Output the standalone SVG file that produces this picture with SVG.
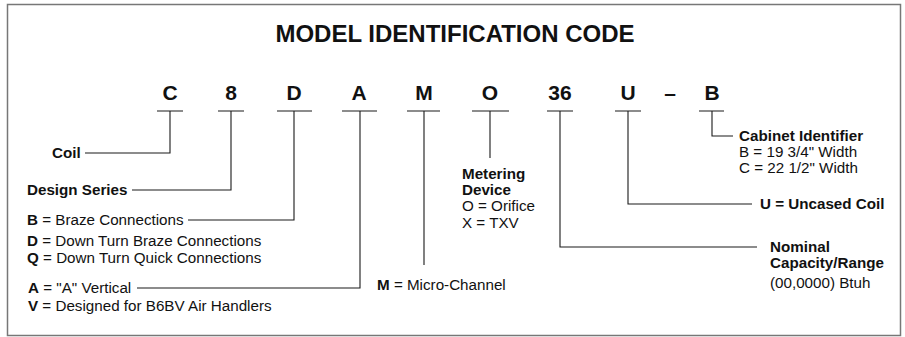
<svg xmlns="http://www.w3.org/2000/svg" width="905" height="337" viewBox="0 0 905 337">
<style>
text{font-family:"Liberation Sans",Arial,Helvetica,sans-serif;fill:#111}
.t{font-size:24px;font-weight:bold;text-anchor:middle}
.c{font-size:21px;font-weight:bold;text-anchor:middle}
.l{font-size:15.2px}
.b{font-weight:bold}
.ln{stroke:#1a1a1a;stroke-width:1.1;fill:none}
</style>
<rect x="7.5" y="4.5" width="893" height="331" fill="#fff" stroke="#777" stroke-width="1.5"/>
<g id="title"><text class="t" x="455" y="42">MODEL IDENTIFICATION CODE</text></g>
<g id="code">
<text class="c" x="170" y="100">C</text>
<text class="c" x="231" y="100">8</text>
<text class="c" x="294" y="100">D</text>
<text class="c" x="359" y="100">A</text>
<text class="c" x="424" y="100">M</text>
<text class="c" x="490" y="100">O</text>
<text class="c" x="560" y="100">36</text>
<text class="c" x="628" y="100">U</text>
<text class="c" x="670" y="100">–</text>
<text class="c" x="712" y="100">B</text>
</g>
<g id="connectors" class="ln">
<path d="M157 111H183M170 111V153H85"/>
<path d="M218 111H244M231 111V190H132"/>
<path d="M277 111H312M294 111V220H188"/>
<path d="M342 111H377M360 111V288H137"/>
<path d="M407 111H440M424 111V265"/>
<path d="M472 111H509M490 111V158"/>
<path d="M547 111H573M560 111V247H757"/>
<path d="M615 111H641M628 111V204H752"/>
<path d="M699 111H724M712 111V136H733"/>
</g>
<g id="coil" class="l"><text class="b" x="52" y="158">Coil</text></g>
<g id="design-series" class="l"><text class="b" x="27" y="195">Design Series</text></g>
<g id="connections" class="l">
<text x="27" y="225"><tspan class="b">B</tspan> = Braze Connections</text>
<text x="27" y="246"><tspan class="b">D</tspan> = Down Turn Braze Connections</text>
<text x="27" y="263"><tspan class="b">Q</tspan> = Down Turn Quick Connections</text>
</g>
<g id="vertical" class="l">
<text x="28" y="293"><tspan class="b">A</tspan> = "A" Vertical</text>
<text x="28" y="311"><tspan class="b">V</tspan> = Designed for B6BV Air Handlers</text>
</g>
<g id="micro-channel" class="l"><text x="377" y="290"><tspan class="b">M</tspan> = Micro-Channel</text></g>
<g id="metering" class="l">
<text class="b" x="462" y="179">Metering</text>
<text class="b" x="462" y="195">Device</text>
<text x="462" y="211">O = Orifice</text>
<text x="462" y="228">X = TXV</text>
</g>
<g id="capacity" class="l">
<text class="b" x="770" y="252">Nominal</text>
<text class="b" x="770" y="268">Capacity/Range</text>
<text x="770" y="288">(00,0000) Btuh</text>
</g>
<g id="uncased" class="l"><text class="b" x="760" y="209">U = Uncased Coil</text></g>
<g id="cabinet" class="l">
<text class="b" x="739" y="141">Cabinet Identifier</text>
<text x="739" y="157">B = 19 3/4" Width</text>
<text x="739" y="173">C = 22 1/2" Width</text>
</g>
</svg>
